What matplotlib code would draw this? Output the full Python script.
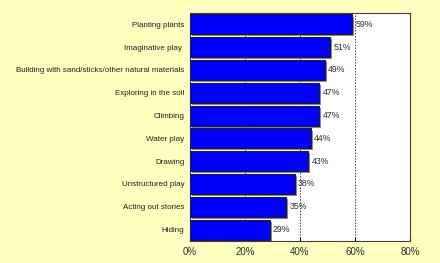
import matplotlib
matplotlib.use("Agg")
import matplotlib.pyplot as plt
import matplotlib.patheffects as pe

activities = ["Planting plants", "Imaginative play ", "Building with sand/sticks/other natural materials",
              "Exploring in the soil", "Climbing", "Water play", "Drawing", "Unstructured play",
              "Acting out stories", "Hiding"]
percents = [59, 51, 49, 47, 47, 44, 43, 38, 35, 29]
xticks = [0, 20, 40, 60, 80]

plt.rcParams['font.family'] = ['Liberation Sans', 'DejaVu Sans']

fig = plt.figure(figsize=(4.4, 2.63), dpi=100, facecolor="#FFFFC0")
ax = fig.add_axes([190/440, 1 - 241/263, 220/440, 228/263])
ax.set_facecolor("white")

pos = list(range(len(activities)))
bars = ax.barh(pos, percents, height=0.87, color="#0000FF", edgecolor="#202020", linewidth=0.8, zorder=3)
for b in bars:
    b.set_path_effects([pe.SimplePatchShadow(offset=(1.5, -1.5), shadow_rgbFace="#808080", alpha=0.9), pe.Normal()])

for p, v in zip(pos, percents):
    ax.text(v + 1.2, p, f"{v}%", va="center", ha="left", fontsize=6.3, color="#303030", zorder=4)

ax.set_xlim(0, 80)
ax.set_ylim(len(activities) - 0.5, -0.5)
ax.set_xticks(xticks)
ax.set_xticklabels([f"{t}%" for t in xticks], fontsize=7, color="#303030")
ax.set_yticks(pos)
ax.set_yticklabels(activities, fontsize=5.8, color="#202020")
ax.tick_params(axis="y", length=0, pad=4)
ax.tick_params(axis="x", length=3, direction="in", pad=4, top=False)
ax.grid(axis="x", color="#404040", linestyle=(0, (1.5, 1.5)), linewidth=0.7, zorder=1)
for s in ax.spines.values():
    s.set_color("#404040")
    s.set_linewidth(0.8)

fig.savefig("out.png", dpi=100, facecolor=fig.get_facecolor())
